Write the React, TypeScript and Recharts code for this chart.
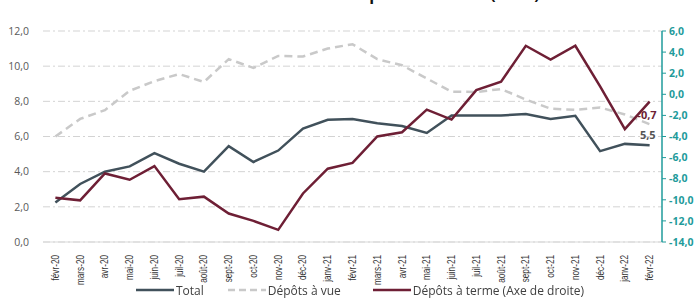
import React from 'react';
import { LineChart, Line, XAxis, YAxis, CartesianGrid, Legend } from 'recharts';

const categories = [
  'févr-20', 'mars-20', 'avr-20', 'mai-20', 'juin-20', 'juil-20', 'août-20', 'sept-20', 'oct-20',
  'nov-20', 'déc-20', 'janv-21', 'févr-21', 'mars-21', 'avr-21', 'mai-21', 'juin-21', 'juil-21',
  'août-21', 'sept-21', 'oct-21', 'nov-21', 'déc-21', 'janv-22', 'févr-22',
];
const total = [2.25, 3.3, 4.0, 4.3, 5.05, 4.45, 4.0, 5.45, 4.55, 5.2, 6.45, 6.95, 7.0, 6.75, 6.6, 6.2, 7.2, 7.2, 7.2, 7.28, 7.0, 7.18, 5.17, 5.58, 5.5];
const depotsVue = [6.0, 7.0, 7.5, 8.6, 9.15, 9.55, 9.1, 10.4, 9.9, 10.58, 10.55, 11.0, 11.25, 10.4, 10.05, 9.3, 8.55, 8.53, 8.7, 8.1, 7.58, 7.52, 7.65, 7.25, 6.7];
const depotsTerme = [-9.8, -10.05, -7.5, -8.1, -6.8, -9.95, -9.7, -11.3, -12.0, -12.85, -9.4, -7.05, -6.5, -4.0, -3.6, -1.45, -2.4, 0.4, 1.2, 4.6, 3.3, 4.6, 0.75, -3.3, -0.7];
const leftTicks = [0, 2, 4, 6, 8, 10, 12];
const rightTicks = [-14, -12, -10, -8, -6, -4, -2, 0, 2, 4, 6];

const data = categories.map((name, i) => ({
  name,
  total: total[i],
  vue: depotsVue[i],
  terme: depotsTerme[i],
}));

const TEAL = '#1f9b9b';
const SLATE = '#41515b';
const MAROON = '#6e1f35';
const GREY = '#c9c9c9';
const fmt = (v: number) => v.toFixed(1).replace('.', ',');

// rotated month labels, read bottom to top; squeezed to look like a narrow font
const XTick = (props: any) => {
  const { x, y, payload } = props;
  return (
    <text
      x={0}
      y={0}
      transform={`translate(${x + 3.5},${y + 5}) rotate(-90) scale(0.82,1.1)`}
      textAnchor="end"
      fontSize={10}
      fill="#333"
      fontFamily="'Liberation Sans', sans-serif"
    >
      {payload.value}
    </text>
  );
};

const lastLabel = (color: string, dx: number, dy: number) => (props: any) => {
  const { x, y, index, value } = props;
  if (index !== categories.length - 1) return null;
  return (
    <text x={x + dx} y={y + dy} textAnchor="end" fontSize={11} fontWeight={700} fill={color} fontFamily="'Open Sans', sans-serif">
      {fmt(value)}
    </text>
  );
};

const LegendContent = () => {
  const item = (label: string, color: string, dashed: boolean, ml: number) => (
    <div style={{ display: 'flex', alignItems: 'center', marginLeft: ml }}>
      <svg width={38} height={4}>
        <line x1={0} y1={2} x2={38} y2={2} stroke={color} strokeWidth={2.5} strokeDasharray={dashed ? '7 4' : undefined} />
      </svg>
      <span style={{ marginLeft: 2 }}>{label}</span>
    </div>
  );
  return (
    <div style={{ display: 'flex', fontFamily: "'Open Sans', sans-serif", fontSize: 12, color: '#404040', paddingLeft: 136, height: 16, alignItems: 'center' }}>
      {item('Total', SLATE, false, 0)}
      {item('Dépôts à vue', GREY, true, 24)}
      {item('Dépôts à terme (Axe de droite)', MAROON, false, 32)}
    </div>
  );
};

export default function App() {
  return (
    <div style={{ position: 'fixed', left: 0, top: 0, width: 698, height: 298, background: '#fff' }}>
      {/* title sits mostly above the frame, as in the source image */}
      <svg width={698} height={10} style={{ position: 'absolute', left: 0, top: 0 }}>
        <text x={352} y={-0.5} textAnchor="middle" fontSize={16} fontWeight={700} fill="#111" fontFamily="'Open Sans', sans-serif">
          Evolution annuelle des dépôts bancaires (en %)
        </text>
      </svg>
      <LineChart width={698} height={298} data={data} margin={{ top: 31, right: 0, left: 0, bottom: 0 }}>
        <CartesianGrid yAxisId="left" vertical={false} stroke="#d3d3d3" strokeDasharray="7 3 2 3" />
        <XAxis
          dataKey="name"
          scale="band"
          interval={0}
          height={40}
          tick={<XTick />}
          tickLine={false}
          axisLine={{ stroke: '#d9d9d9' }}
        />
        <YAxis
          yAxisId="left"
          width={43}
          domain={[0, 12]}
          ticks={leftTicks}
          tickFormatter={fmt}
          axisLine={false}
          tickLine={false}
          tickMargin={8}
          tick={{ fontSize: 10.5, fill: '#595959', fontFamily: "'Open Sans', sans-serif" }}
        />
        <YAxis
          yAxisId="right"
          orientation="right"
          width={36}
          domain={[-14, 6]}
          ticks={rightTicks}
          tickFormatter={fmt}
          axisLine={{ stroke: TEAL, strokeWidth: 1.5 }}
          tickLine={{ stroke: TEAL }}
          tickSize={4}
          tickMargin={3}
          tick={{ fontSize: 10.5, fill: TEAL, fontWeight: 700, fontFamily: "'Open Sans', sans-serif" }}
        />
        <Legend verticalAlign="bottom" height={16} content={<LegendContent />} />
        <Line yAxisId="left" dataKey="vue" stroke={GREY} strokeWidth={2.5} strokeDasharray="8 5" dot={false} isAnimationActive={false} />
        <Line yAxisId="left" dataKey="total" stroke={SLATE} strokeWidth={2.5} dot={false} isAnimationActive={false} label={lastLabel('#555', 6, -6)} />
        <Line yAxisId="right" dataKey="terme" stroke={MAROON} strokeWidth={2.5} dot={false} isAnimationActive={false} label={lastLabel(MAROON, 7, 17)} />
      </LineChart>
    </div>
  );
}
